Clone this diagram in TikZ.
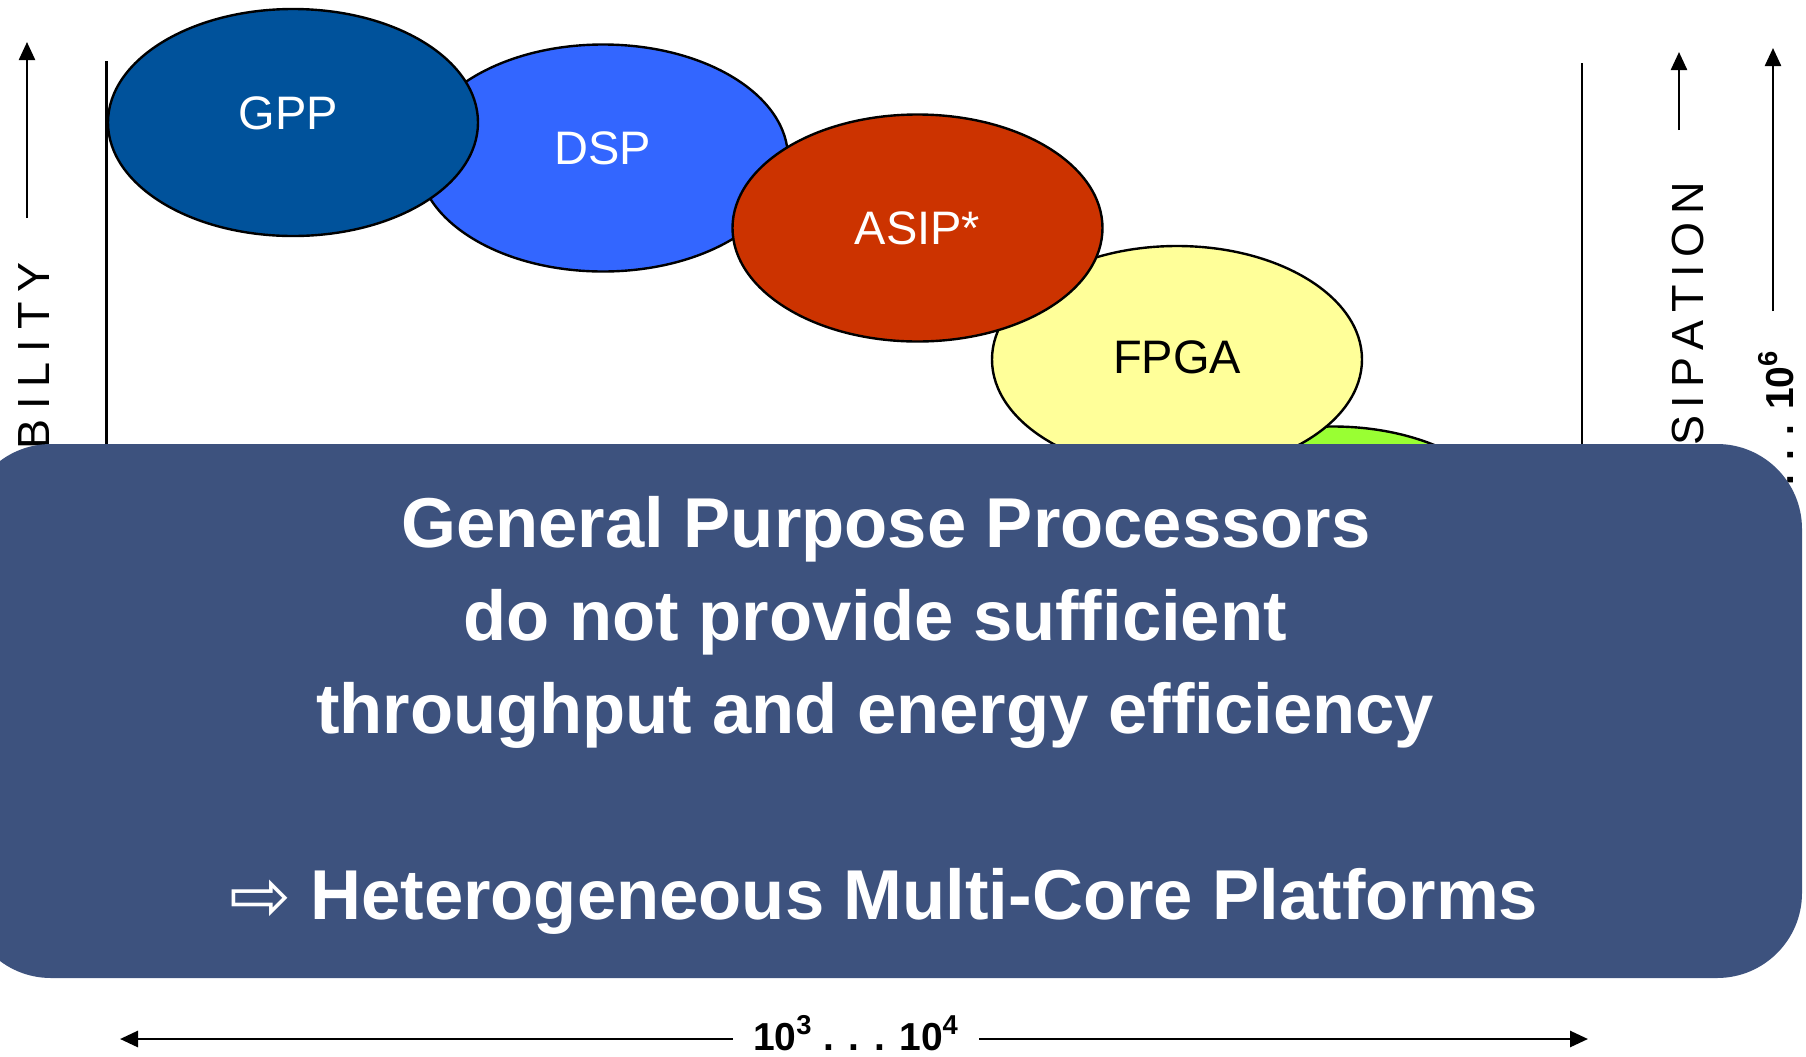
\documentclass[tikz,border=0pt]{standalone}
\usepackage{fontspec}
\setmainfont{Liberation Sans}
\newfontfamily\arrowfont{DejaVu Sans}
\usetikzlibrary{shapes.geometric, arrows.meta}

\definecolor{gppblue}{RGB}{0,82,155}
\definecolor{dspblue}{RGB}{51,102,255}
\definecolor{asipred}{RGB}{204,51,0}
\definecolor{fpgayellow}{RGB}{255,255,153}
\definecolor{asicgreen}{RGB}{153,255,51}
\definecolor{panelblue}{RGB}{61,82,126}

\begin{document}
\begin{tikzpicture}[x = 0.5pt, y = -0.5pt,
        proc/.style = {ellipse, draw, line width = 1.2pt, minimum width = 185pt, minimum height = 113.5pt, inner sep = 0pt, font = \fontsize{23.5}{28}\selectfont},
        bar/.style = {line width = 1.3pt},
        axis/.style = {-{Triangle[length = 9pt, width = 8pt]}, line width = 1.2pt},
        vlabel/.style = {rotate = 90, inner sep = 0pt, font = \fontsize{22.5}{27}\selectfont},
        num/.style = {inner sep = 0pt, font = \fontsize{19.5}{24}\selectfont\bfseries},
        msg/.style = {anchor = base, inner sep = 0pt, text = white, font = \fontsize{35.3}{42}\selectfont\bfseries}]

        \useasboundingbox (0, 0) rectangle (1806, 1056);

        % Frame
        \draw [bar] (106.5, 61) -- (106.5, 470);
        \draw [bar] (1582, 63) -- (1582, 470);

        % Processors (back to front)
        \node [proc, fill = asicgreen] (asic) at (1333, 540) {};
        \node [proc, fill = fpgayellow, text depth = 2.5pt] (fpga) at (1177, 359.5) {FPGA};
        \node [proc, fill = dspblue, text = white, text depth = 10pt] (dsp) at (603, 158) {DSP};
        \node [proc, fill = asipred, text = white] (asip) at (917.5, 228) {ASIP*};
        \node [proc, fill = gppblue, text = white, text depth = 9.5pt] (gpp) at (293, 122.5) {\hspace*{-4.5pt}GPP};

        % Left axis
        \coordinate (flexFoot) at (27, 218);
        \coordinate (flexTip) at (27, 42);
        \draw [axis] (flexFoot) -- (flexTip);
        \node [vlabel, anchor = base east] (flex) at (49, 262) {\spaceskip=5pt\relax B I L I T Y};

        % Right axes
        \coordinate (powFoot) at (1679, 130);
        \coordinate (powTip) at (1679, 52);
        \draw [axis] (powFoot) -- (powTip);
        \node [vlabel, anchor = base east] (power) at (1703, 182) {\spaceskip=3.8pt\relax S I P A T I O N};

        \coordinate (rangeFoot) at (1773, 311);
        \coordinate (rangeTip) at (1773, 48);
        \draw [axis] (rangeFoot) -- (rangeTip);
        \node [num, rotate = 90, anchor = base east] (numy) at (1793, 350) {. . . 10\textsuperscript{6}};

        % Message panel
        \fill [panelblue, rounded corners = 42.5pt] (-34, 444) rectangle (1802, 978);

        \node [msg] (gen) at (886, 547) {General Purpose Processors};
        \node [msg] (suff) at (875, 640) {do not provide sufficient};
        \node [msg] (eff) at (875, 733) {throughput and energy efficiency};

        %% Conclusion
        \node [msg, anchor = base west] (hetero) at (310, 919) {Heterogeneous Multi-Core Platforms};
        \node [msg, anchor = base east, font = \fontsize{37}{44}\arrowfont] (thus) at (292, 921) {⇨};

        % Bottom axis
        \node [num, inner xsep = 10pt, anchor = base] (numx) at (856, 1050) {10\textsuperscript{3} . . . 10\textsuperscript{4}};
        \coordinate (xl) at (120, 1039);
        \coordinate (xr) at (1588, 1039);
        \draw [axis, line width = 1.4pt] (numx.west |- xl) -- (xl);
        \draw [axis, line width = 1.4pt] (numx.east |- xr) -- (xr);

    \end{tikzpicture}
\end{document}
